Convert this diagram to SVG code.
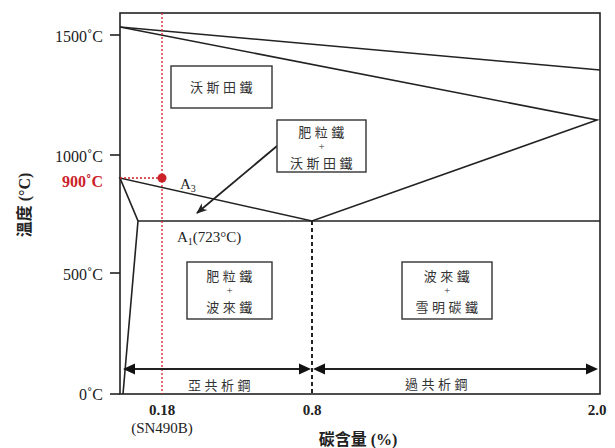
<svg xmlns="http://www.w3.org/2000/svg" width="615" height="448" viewBox="0 0 615 448">
<defs>
<style>
.ln{stroke:#222;stroke-width:1.6;fill:none}
.box{fill:#fff;stroke:#333;stroke-width:1.4}
.cjk{font-family:"Noto Sans CJK TC","Noto Sans CJK SC",sans-serif;font-size:13px;fill:#333;letter-spacing:3.5px;text-anchor:middle}
.plus{font-family:"Liberation Serif",serif;font-size:11px;fill:#333;text-anchor:middle}
.tick{font-family:"Liberation Serif",serif;font-size:16px;fill:#222;text-anchor:end}
.red{fill:#cc2229}
.rdot{stroke:#cc2229;stroke-width:1.3;stroke-dasharray:2 2;fill:none}
.lab{font-family:"Liberation Serif",serif;font-size:15px;fill:#222}
.bold{font-weight:bold}
.head{fill:#111}
</style>
<marker id="ah2" viewBox="0 0 10 10" refX="9" refY="5" markerWidth="11" markerHeight="11" markerUnits="userSpaceOnUse" orient="auto">
<path d="M0,1 L10,5 L0,9 L3,5 z" fill="#222"/>
</marker>
</defs>
<rect width="615" height="448" fill="#fff"/>

<g id="axes">
<rect x="120" y="13" width="480" height="381" class="ln"/>
<line x1="110" y1="35" x2="120" y2="35" class="ln"/>
<line x1="110" y1="155" x2="120" y2="155" class="ln"/>
<line x1="110" y1="273" x2="120" y2="273" class="ln"/>
<line x1="110" y1="394" x2="120" y2="394" class="ln"/>
<text class="tick" x="103" y="42">1500˚C</text>
<text class="tick" x="103" y="162">1000˚C</text>
<text class="tick bold red" x="103" y="187">900˚C</text>
<text class="tick" x="103" y="280">500˚C</text>
<text class="tick" x="103" y="400">0˚C</text>
<text class="lab bold red" x="162" y="415" text-anchor="middle">0.18</text>
<text class="lab red" x="162" y="433" text-anchor="middle">(SN490B)</text>
<text class="lab bold" x="312" y="415" text-anchor="middle">0.8</text>
<text class="lab bold" x="597" y="415" text-anchor="middle">2.0</text>
<text x="358" y="445" text-anchor="middle" font-family="Liberation Serif,Noto Sans CJK TC,serif" font-size="16" font-weight="bold" fill="#222">碳含量 (%)</text>
<text transform="translate(30,205) rotate(-90)" text-anchor="middle" font-family="Liberation Serif,Noto Sans CJK TC,serif" font-size="16" font-weight="bold" fill="#222">溫度 (°C)</text>
</g>

<g id="connectors">
<line x1="120" y1="27" x2="600" y2="70" class="ln"/>
<polyline points="120,27 597,120 312,221 120,178 138,221 123,394" class="ln"/>
<line x1="138" y1="221" x2="600" y2="221" class="ln"/>
<line x1="312" y1="221" x2="312" y2="394" stroke="#222" stroke-width="2" stroke-dasharray="4 3"/>
<line x1="162" y1="13" x2="162" y2="394" class="rdot"/>
<line x1="120" y1="178" x2="162" y2="178" class="rdot"/>
<circle cx="162" cy="178" r="4.5" fill="#cc2229"/>
<line x1="277" y1="146" x2="197" y2="213" stroke="#222" stroke-width="1.8" marker-end="url(#ah2)"/>
<line x1="128" y1="369" x2="306" y2="369" stroke="#222" stroke-width="1.8"/>
<polygon class="head" points="123,369 135,363.5 135,374.5"/>
<polygon class="head" points="311,369 299,363.5 299,374.5"/>
<line x1="318" y1="369" x2="593" y2="369" stroke="#222" stroke-width="1.8"/>
<polygon class="head" points="313,369 325,363.5 325,374.5"/>
<polygon class="head" points="598,369 586,363.5 586,374.5"/>
</g>

<g id="labels">
<text class="lab" x="180" y="189">A<tspan font-size="10" dy="3">3</tspan></text>
<text class="lab" x="177" y="242">A<tspan font-size="10" dy="3">1</tspan><tspan dy="-3">(723°C)</tspan></text>
<text class="cjk" x="221" y="390">亞共析鋼</text>
<text class="cjk" x="438" y="389">過共析鋼</text>
</g>

<g id="austenite">
<rect x="171" y="66" width="101" height="42" class="box"/>
<text class="cjk" x="223" y="92">沃斯田鐵</text>
</g>

<g id="ferrite-austenite">
<rect x="277" y="120" width="89" height="52" class="box"/>
<text class="cjk" x="323" y="137">肥粒鐵</text>
<text class="plus" x="321.5" y="150">+</text>
<text class="cjk" x="323" y="167.5">沃斯田鐵</text>
</g>

<g id="ferrite-pearlite">
<rect x="187" y="262" width="85" height="57" class="box"/>
<text class="cjk" x="231" y="281">肥粒鐵</text>
<text class="plus" x="229.5" y="294">+</text>
<text class="cjk" x="231" y="312">波來鐵</text>
</g>

<g id="pearlite-cementite">
<rect x="402" y="262" width="90" height="57" class="box"/>
<text class="cjk" x="448.5" y="281">波來鐵</text>
<text class="plus" x="447" y="294">+</text>
<text class="cjk" x="448.5" y="312">雪明碳鐵</text>
</g>
</svg>
